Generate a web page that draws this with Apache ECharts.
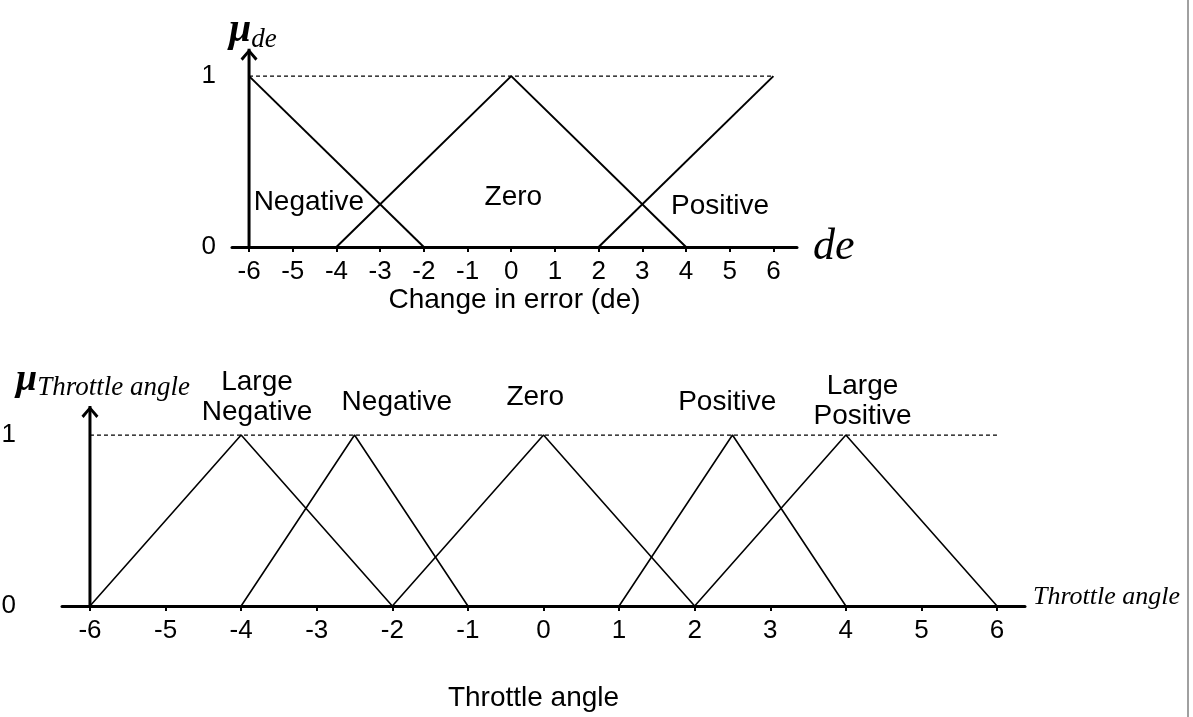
<!DOCTYPE html>
<html>
<head>
<meta charset="utf-8">
<script src="https://cdn.jsdelivr.net/npm/echarts@6/dist/echarts.min.js"></script>
<style>
  html, body { margin: 0; padding: 0; background: #fff; }
  #chart { width: 1193px; height: 717px; }
</style>
</head>
<body>
<div id="chart"></div>
<script>
// Fuzzy membership functions: input "change in error" and output "throttle angle"
const ticks = [-6, -5, -4, -3, -2, -1, 0, 1, 2, 3, 4, 5, 6];
const yTicks = [0, 1];

// Input: change in error (de)
const deNames = ['Negative', 'Zero', 'Positive'];
const deNegative = [[-6, 1], [-2, 0]];
const deZero = [[-4, 0], [0, 1], [4, 0]];
const dePositive = [[2, 0], [6, 1]];

// Output: throttle angle
const thNames = ['Large\nNegative', 'Negative', 'Zero', 'Positive', 'Large\nPositive'];
const thLargeNegative = [[-6, 0], [-4, 1], [-2, 0]];
const thNegative = [[-4, 0], [-2.5, 1], [-1, 0]];
const thZero = [[-2, 0], [0, 1], [2, 0]];
const thPositive = [[1, 0], [2.5, 1], [4, 0]];
const thLargePositive = [[2, 0], [4, 1], [6, 0]];

// ---- layout / styling ----
const SANS = 'Liberation Sans, Arial, sans-serif';
const SERIF = 'Liberation Serif, Times New Roman, serif';
const black = '#000';
const lo = ticks[0], hi = ticks[ticks.length - 1];
const full = yTicks[1];

// where each term name sits, in data units of its panel
const deLabelAt = [[-4.63, 0.26], [0.05, 0.29], [4.78, 0.24]];
const thLabelAt = [[-3.79, 1.22], [-1.94, 1.19], [-0.11, 1.22], [2.43, 1.19], [4.22, 1.2]];

const chevron = 'path://M0,9 L8,0 L16,9 L14,11 L8,4 L2,11 Z';

function curve(data, g, width) {
  return {
    type: 'line', xAxisIndex: g * 2, yAxisIndex: g, data: data,
    symbol: 'none', silent: true, clip: false, z: 3,
    lineStyle: { color: black, width: width }
  };
}
function refLine(g) {
  return {
    type: 'line', xAxisIndex: g * 2, yAxisIndex: g,
    data: [[lo, full], [hi, full]], symbol: 'none', silent: true, z: 2,
    lineStyle: { color: black, width: 1.3, type: [4, 3] }
  };
}
function vertAxis(g, top) {
  return {
    type: 'line', xAxisIndex: g * 2, yAxisIndex: g, silent: true, clip: false, z: 4,
    showSymbol: true, symbol: 'none',
    data: [
      { value: [lo, 0], symbol: 'none' },
      { value: [lo, top], symbol: chevron, symbolSize: [17, 12], symbolOffset: [0, 6],
        itemStyle: { color: black } }
    ],
    lineStyle: { color: black, width: 3 }
  };
}
function termLabels(names, at, g, lh) {
  const termStyle = { color: black, fontFamily: SANS, fontSize: 28, lineHeight: lh, align: 'center' };
  return {
    type: 'scatter', xAxisIndex: g * 2, yAxisIndex: g, silent: true, clip: false, z: 5,
    symbolSize: 0, itemStyle: { color: black, opacity: 1 },
    data: names.map((n, i) => ({ name: n, value: at[i] })),
    label: {
      show: true, position: 'inside',
      formatter: p => p.name.split('\n').map(s => '{t|' + s + '}').join('\n'),
      color: black, textBorderWidth: 0, align: 'center',
      rich: { t: termStyle }
    }
  };
}
function xMain(g, min, max, title, gap, pad) {
  return {
    gridIndex: g, type: 'value', min: min, max: max, position: 'bottom',
    axisLine: { show: true, onZero: false, lineStyle: { color: black, width: 3 } },
    axisTick: { show: true, customValues: ticks, length: 5, lineStyle: { color: black, width: 2 } },
    axisLabel: { customValues: ticks, margin: 12, color: black, fontFamily: SANS, fontSize: 26 },
    splitLine: { show: false },
    name: title, nameLocation: 'middle', nameGap: gap,
    nameTextStyle: { color: black, fontFamily: SANS, fontSize: 28, padding: pad }
  };
}
function xEndName(g, min, max, text, style, gap) {
  return {
    gridIndex: g, type: 'value', min: min, max: max, position: 'bottom',
    axisLine: { show: false, onZero: false }, axisTick: { show: false },
    axisLabel: { show: false }, splitLine: { show: false },
    name: text, nameLocation: 'end', nameGap: gap, nameTextStyle: style
  };
}
function yAxisFor(g, max, margin) {
  return {
    gridIndex: g, type: 'value', min: 0, max: max,
    axisLine: { show: false }, axisTick: { show: false }, splitLine: { show: false },
    axisLabel: { customValues: yTicks, margin: margin, color: black, fontFamily: SANS, fontSize: 26 }
  };
}

const chart = echarts.init(document.getElementById('chart'), null, { renderer: 'canvas' });
chart.setOption({
  backgroundColor: '#fff',
  animation: false,
  title: [
    {
      left: 224, top: 4,
      text: '{mu|μ}{sub|de}',
      textStyle: { rich: {
        mu: { fontFamily: SERIF, fontStyle: 'italic', fontWeight: 'bold', fontSize: 40, color: black, lineHeight: 44 },
        sub: { fontFamily: SERIF, fontStyle: 'italic', fontWeight: 'normal', fontSize: 27, color: black, lineHeight: 44, verticalAlign: 'bottom' }
      } }
    },
    {
      left: 11, top: 354,
      text: '{mu|μ}{sub|Throttle angle}',
      textStyle: { rich: {
        mu: { fontFamily: SERIF, fontStyle: 'italic', fontWeight: 'bold', fontSize: 38, color: black, lineHeight: 42 },
        sub: { fontFamily: SERIF, fontStyle: 'italic', fontWeight: 'normal', fontSize: 27, color: black, lineHeight: 42, verticalAlign: 'bottom' }
      } }
    }
  ],
  grid: [
    { left: 232, right: 396, top: 59, height: 188, outerBoundsMode: 'none' },
    { left: 62, right: 168, top: 406, height: 200, outerBoundsMode: 'none' }
  ],
  xAxis: [
    xMain(0, -6.39, 6.54, 'Change in error (de)', 37, [0, 0, 0, 0]),
    xEndName(0, -6.39, 6.54, 'de',
      { color: black, fontFamily: SERIF, fontStyle: 'italic', fontSize: 44 }, 16),
    xMain(1, -6.37, 6.37, 'Throttle angle', 78, [0, 20, 0, 0]),
    xEndName(1, -6.37, 6.37, 'Throttle angle',
      { color: black, fontFamily: SERIF, fontStyle: 'italic', fontSize: 26,
        verticalAlign: 'bottom', lineHeight: 18 }, 8)
  ],
  yAxis: [
    yAxisFor(0, 1.1, 16),
    yAxisFor(1, 1.17, 46)
  ],
  series: [
    refLine(0),
    curve(deNegative, 0, 2),
    curve(deZero, 0, 2),
    curve(dePositive, 0, 2),
    vertAxis(0, 1.16),
    termLabels(deNames, deLabelAt, 0, 30),

    refLine(1),
    curve(thLargeNegative, 1, 1.6),
    curve(thNegative, 1, 1.6),
    curve(thZero, 1, 1.6),
    curve(thPositive, 1, 1.6),
    curve(thLargePositive, 1, 1.6),
    vertAxis(1, 1.17),
    termLabels(thNames, thLabelAt, 1, 30)
  ],
  graphic: [
    { type: 'line', shape: { x1: 1188, y1: 0, x2: 1188, y2: 717 },
      style: { stroke: '#808080', lineWidth: 1.5 }, silent: true }
  ]
});
</script>
</body>
</html>
